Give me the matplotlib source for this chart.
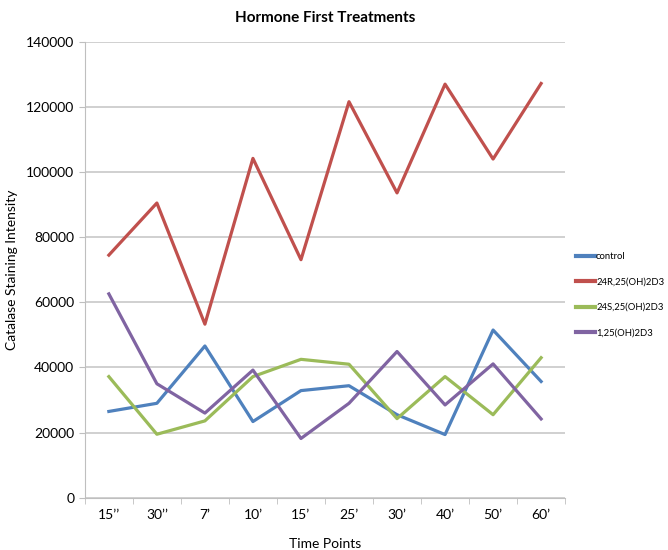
import matplotlib.pyplot as plt
from matplotlib.ticker import FixedLocator, NullFormatter

plt.rcParams['font.family'] = ['Lato', 'DejaVu Sans']

time_points = ["15\u2019\u2019", "30\u2019\u2019", "7\u2019", "10\u2019", "15\u2019",
               "25\u2019", "30\u2019", "40\u2019", "50\u2019", "60\u2019"]

control = [26500, 29000, 46600, 23400, 32900, 34400, 25500, 19400, 51500, 35700]
r24 = [74500, 90500, 53300, 104200, 73100, 121600, 93600, 127000, 104000, 127200]
s24 = [37200, 19500, 23600, 37200, 42500, 41000, 24300, 37200, 25500, 43000]
d3 = [62600, 35000, 26000, 39200, 18200, 29000, 44900, 28500, 41100, 24200]

series = [("control", control, "#4F81BD"),
          ("24R,25(OH)2D3", r24, "#C0504D"),
          ("24S,25(OH)2D3", s24, "#9BBB59"),
          ("1,25(OH)2D3", d3, "#8064A2")]

fig = plt.figure(figsize=(6.68, 5.5), dpi=100)
ax = fig.add_axes([0.127, 0.095, 0.719, 0.829])

x = list(range(len(time_points)))
for name, vals, col in series:
    ax.plot(x, vals, color=col, lw=2.3, label=name)

ax.set_xlim(-0.5, len(time_points) - 0.5)
ax.set_ylim(0, 140000)
ax.set_yticks(range(0, 140001, 20000))
ax.grid(axis='y', color='#C8C8C8', lw=1.2)
ax.set_axisbelow(True)

ax.set_xticks(x)
ax.set_xticklabels(time_points, fontsize=10)
ax.tick_params(axis='x', which='major', length=0, pad=8)
ax.xaxis.set_minor_locator(FixedLocator([i - 0.5 for i in range(len(time_points) + 1)]))
ax.xaxis.set_minor_formatter(NullFormatter())
ax.tick_params(axis='x', which='minor', length=4, color='#BFBFBF')
ax.tick_params(axis='y', length=4, color='#BFBFBF', labelsize=10)

for s in ['top', 'right']:
    ax.spines[s].set_visible(False)
for s in ['left', 'bottom']:
    ax.spines[s].set_color('#BFBFBF')

ax.set_title("Hormone First Treatments", fontsize=11, fontweight='bold', pad=14)
ax.set_xlabel("Time Points", fontsize=10, labelpad=12)
ax.set_ylabel("Catalase Staining Intensity", fontsize=10, labelpad=6)

leg = fig.legend(loc='center left', bbox_to_anchor=(0.862, 0.464), frameon=False,
                 fontsize=6.8, handlelength=2.0, handletextpad=0.15, labelspacing=1.75,
                 borderaxespad=0, borderpad=0)
for h in leg.get_lines():
    h.set_linewidth(3)

fig.savefig("out.png", dpi=100)
